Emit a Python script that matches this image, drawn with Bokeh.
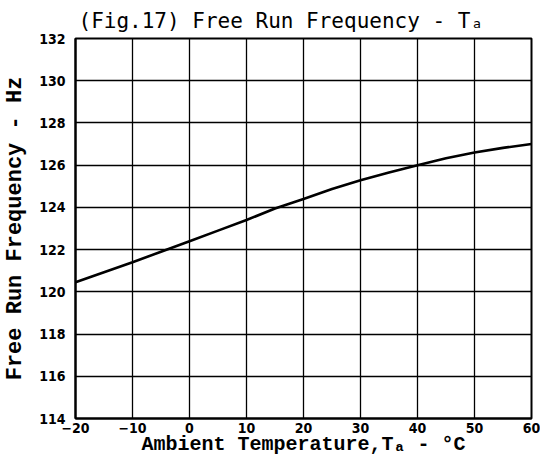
from bokeh.plotting import figure
from bokeh.embed import file_html
from bokeh.resources import INLINE
from bokeh.models import FixedTicker, Range1d

# Data
temperature = [-20, -15, -10, -5, 0, 5, 10, 15, 20, 25, 30, 35, 40, 45, 50, 55, 60]
frequency = [120.45, 120.93, 121.4, 121.9, 122.4, 122.9, 123.4, 123.95, 124.4,
             124.87, 125.28, 125.65, 126.0, 126.33, 126.6, 126.82, 127.0]

x_ticks = [-20, -10, 0, 10, 20, 30, 40, 50, 60]
y_ticks = [114, 116, 118, 120, 122, 124, 126, 128, 130, 132]

title_text = "(Fig.17) Free Run Frequency - T\u2090"
x_label = "Ambient Temperature,T\u2090 - \u00b0C"
y_label = "Free Run Frequency - Hz"

p = figure(width=540, height=458, output_backend="svg", toolbar_location=None,
           x_range=Range1d(-20, 60), y_range=Range1d(114, 132),
           min_border_left=62, min_border_right=9, min_border_bottom=30, min_border_top=21)

p.title.text = title_text
p.title.text_font = "DejaVu Sans Mono"
p.title.text_font_size = "21px"
p.title.text_font_style = "normal"
p.title.text_color = "black"
p.title.align = "left"
p.title.offset = 3
p.title.standoff = 12

p.line(temperature, frequency, line_color="black", line_width=2.6)

for ax in (p.xaxis, p.yaxis):
    ax.major_tick_line_color = None
    ax.minor_tick_line_color = None
    ax.major_tick_in = 0
    ax.major_tick_out = 0
    ax.axis_line_color = "black"
    ax.axis_line_width = 2
    ax.major_label_text_font = "'Liberation Sans Narrow', 'DejaVu Sans Condensed', sans-serif"
    ax.major_label_text_font_style = "bold"
    ax.major_label_text_font_size = "14px"
    ax.major_label_text_color = "black"
    ax.axis_label_text_font = "Liberation Mono"
    ax.axis_label_text_font_style = "bold"
    ax.axis_label_text_color = "black"

p.xaxis.axis_label_text_font_size = "20px"
p.yaxis.axis_label_text_font_size = "22px"
p.xaxis.ticker = FixedTicker(ticks=x_ticks)
p.yaxis.ticker = FixedTicker(ticks=y_ticks)
p.xaxis.major_label_standoff = 4
p.yaxis.major_label_standoff = 10
p.xaxis.axis_label = x_label
p.yaxis.axis_label = y_label
p.xaxis.axis_label_standoff = -3
p.yaxis.axis_label_standoff = 8

p.xgrid.ticker = FixedTicker(ticks=x_ticks)
p.ygrid.ticker = FixedTicker(ticks=y_ticks)
for g in (p.xgrid, p.ygrid):
    g.grid_line_color = "black"
    g.grid_line_width = 1.3
    g.grid_line_alpha = 1.0

p.outline_line_color = "black"
p.outline_line_width = 2
p.background_fill_color = "white"
p.border_fill_color = "white"

open("out.html", "w").write(file_html(p, INLINE))
